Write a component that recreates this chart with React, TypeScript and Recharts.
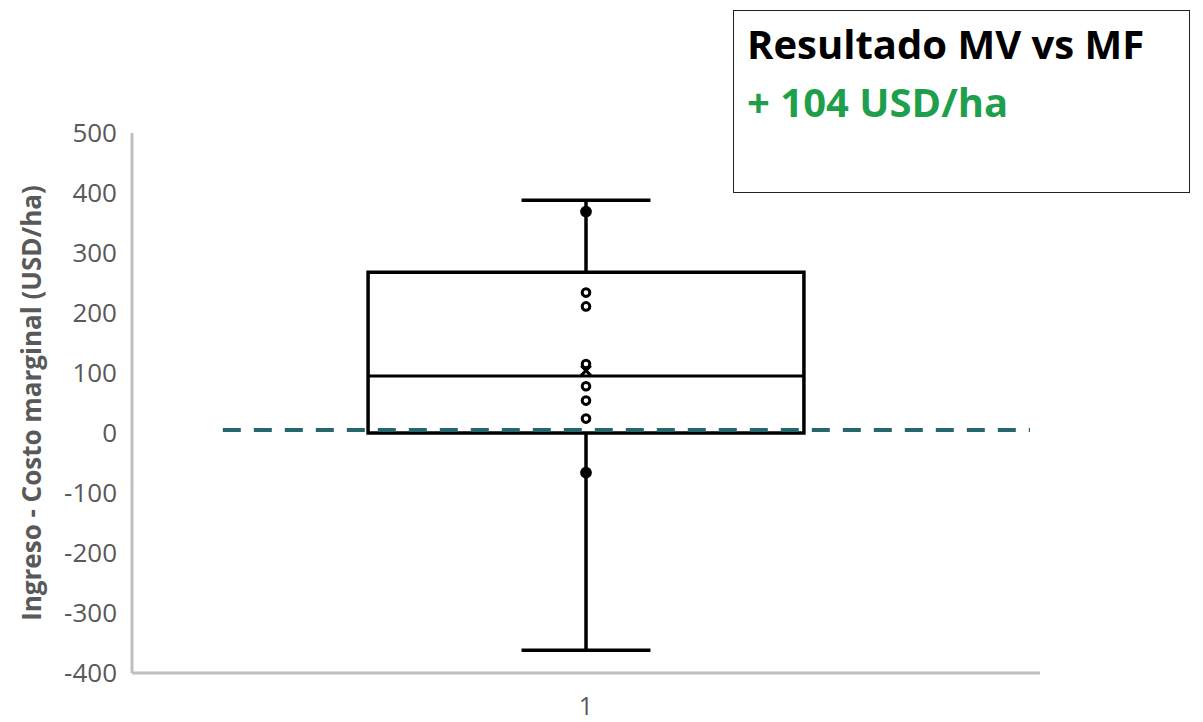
import React from 'react';
import {
  ComposedChart,
  XAxis,
  YAxis,
  Scatter,
  ReferenceArea,
  ReferenceLine,
} from 'recharts';

// Box-plot summary (USD/ha)
const whiskerMin = -362;
const q1 = 0;
const median = 95;
const q3 = 268;
const whiskerMax = 388;
const meanValue = 104;
const referenceValue = 5;

// individual observations shown as inner points
const pointValues = [369, 234, 211, 115, 78, 54, 24, -66];

const categoryPos = 1;
const yTicks = [-400, -300, -200, -100, 0, 100, 200, 300, 400, 500];
const xTicks = [1];

const titleLine1 = 'Resultado MV vs MF';
const titleLine2 = '+ 104 USD/ha';
const yLabel = 'Ingreso - Costo marginal (USD/ha)';

const points = pointValues.map((v) => ({ x: categoryPos, y: v }));
const meanPoint = [{ x: categoryPos, y: meanValue }];

const boxHalf = 0.48;
const capHalf = 0.142;
const FONT = '"Open Sans", Lato, sans-serif';
const TICK_COLOR = '#595959';

const HollowDot = (props: any) => {
  const { cx, cy, payload } = props;
  if (cx == null || cy == null) return null;
  const onWhisker = payload && (payload.y > q3 || payload.y < q1);
  return (
    <circle
      cx={cx}
      cy={cy}
      r={onWhisker ? 4.4 : 3.8}
      fill={onWhisker ? '#000' : 'none'}
      stroke="#000"
      strokeWidth={3}
    />
  );
};

const MeanMark = (props: any) => {
  const { cx, cy } = props;
  if (cx == null || cy == null) return null;
  const s = 4.8;
  return (
    <g stroke="#000" strokeWidth={3}>
      <line x1={cx - s} y1={cy - s} x2={cx + s} y2={cy + s} />
      <line x1={cx - s} y1={cy + s} x2={cx + s} y2={cy - s} />
    </g>
  );
};

export default function App() {
  return (
    <div style={{ position: 'absolute', left: 0, top: 0, width: 1203, height: 722, background: '#fff', fontFamily: FONT }}>
      <ComposedChart
        width={1203}
        height={722}
        margin={{ top: 133, right: 163, bottom: 0, left: 0 }}
      >
        <XAxis
          type="number"
          dataKey="x"
          domain={[0, 2]}
          ticks={xTicks}
          tickLine={false}
          tickSize={0}
          tickMargin={24}
          height={49}
          axisLine={{ stroke: '#BFBFBF', strokeWidth: 3 }}
          tick={{ fill: TICK_COLOR, fontSize: 25, fontFamily: FONT }}
        />
        <YAxis
          type="number"
          dataKey="y"
          domain={[-400, 500]}
          ticks={yTicks}
          interval={0}
          width={132}
          tickLine={false}
          tickSize={0}
          tickMargin={15}
          axisLine={{ stroke: '#BFBFBF', strokeWidth: 3 }}
          tick={{ fill: TICK_COLOR, fontSize: 26, fontFamily: FONT }}
          label={{
            content: (p: any) => {
              const vb = p.viewBox || {};
              const cx = (vb.x || 0) + 31;
              const cy = (vb.y || 0) + (vb.height || 0) / 2;
              return (
                <text
                  x={cx}
                  y={cy}
                  transform={`rotate(-90 ${cx} ${cy})`}
                  textAnchor="middle"
                  dominantBaseline="central"
                  fill={TICK_COLOR}
                  fontSize={26}
                  fontWeight={700}
                  fontFamily={FONT}
                >
                  {yLabel}
                </text>
              );
            },
          }}
        />
        {/* whiskers */}
        <ReferenceLine
          segment={[{ x: categoryPos, y: q3 }, { x: categoryPos, y: whiskerMax }]}
          stroke="#000"
          strokeWidth={3.5}
        />
        <ReferenceLine
          segment={[{ x: categoryPos, y: whiskerMin }, { x: categoryPos, y: q1 }]}
          stroke="#000"
          strokeWidth={3.5}
        />
        <ReferenceLine
          segment={[{ x: categoryPos - capHalf, y: whiskerMax }, { x: categoryPos + capHalf, y: whiskerMax }]}
          stroke="#000"
          strokeWidth={3.5}
        />
        <ReferenceLine
          segment={[{ x: categoryPos - capHalf, y: whiskerMin }, { x: categoryPos + capHalf, y: whiskerMin }]}
          stroke="#000"
          strokeWidth={3.5}
        />
        {/* box */}
        <ReferenceArea
          x1={categoryPos - boxHalf}
          x2={categoryPos + boxHalf}
          y1={q1}
          y2={q3}
          fill="none"
          fillOpacity={0}
          stroke="#000"
          strokeWidth={3.5}
        />
        <ReferenceLine
          segment={[{ x: categoryPos - boxHalf, y: median }, { x: categoryPos + boxHalf, y: median }]}
          stroke="#000"
          strokeWidth={3}
        />
        {/* reference dashed line */}
        <ReferenceLine
          segment={[{ x: 0.2, y: referenceValue }, { x: 1.978, y: referenceValue }]}
          stroke="#26676E"
          strokeWidth={4}
          strokeDasharray="18 13"
        />
        <Scatter data={points} shape={<HollowDot />} isAnimationActive={false} />
        <Scatter data={meanPoint} shape={<MeanMark />} isAnimationActive={false} />
      </ComposedChart>
      <div
        style={{
          position: 'absolute',
          left: 733,
          top: 10,
          width: 457,
          height: 183,
          boxSizing: 'border-box',
          border: '1.5px solid #222',
          background: '#fff',
          fontFamily: FONT,
          fontWeight: 700,
          paddingLeft: 13,
          paddingTop: 4,
          whiteSpace: 'nowrap',
        }}
      >
        <div style={{ fontSize: 40, lineHeight: '58px', color: '#000' }}>{titleLine1}</div>
        <div style={{ fontSize: 40, lineHeight: '58px', color: '#1F9F4B' }}>{titleLine2}</div>
      </div>
    </div>
  );
}
